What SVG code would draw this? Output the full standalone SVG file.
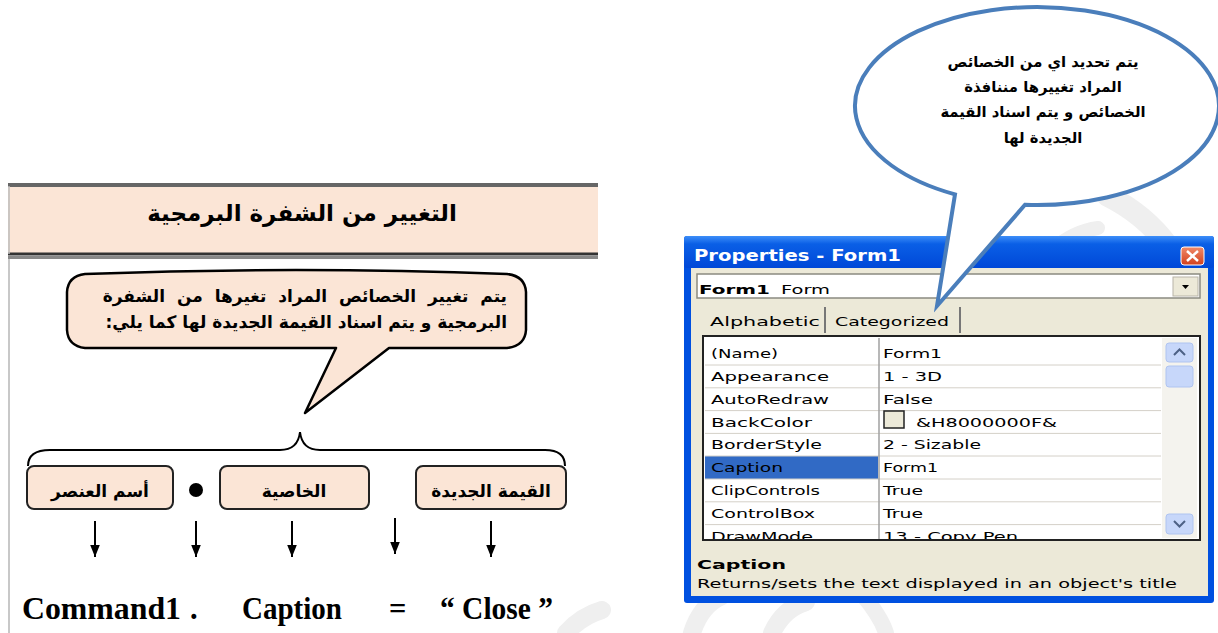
<svg xmlns="http://www.w3.org/2000/svg" width="1218" height="633" viewBox="0 0 1218 633">
<defs>
<style>
.ar{font-family:'DejaVu Sans','Noto Sans',sans-serif;font-weight:bold;fill:#000;}
.peach{fill:#FBE5D6;}
.code{font-family:'Liberation Serif',serif;font-weight:bold;font-size:30.5px;fill:#000;}
.ui{font-family:'DejaVu Sans',sans-serif;font-size:13px;fill:#000;}
.gl{stroke:#d4d0c8;stroke-width:1;}
.arrow{stroke:#000;stroke-width:2;marker-end:url(#ah);}
.wm{fill:none;stroke:#efefef;stroke-linecap:round;}
.sb{fill:#C7D7FA;stroke:#AFC4F0;stroke-width:1;}
</style>
<marker id="ah" viewBox="0 0 10 8" refX="10" refY="4" markerWidth="6" markerHeight="4.8" orient="auto" markerUnits="strokeWidth">
<path d="M0,0 L10,4 L0,8 Z" fill="#000"/>
</marker>
<linearGradient id="tb" x1="0" y1="0" x2="0" y2="1">
<stop offset="0" stop-color="#3D8EF8"/>
<stop offset="0.25" stop-color="#0A5FE6"/>
<stop offset="1" stop-color="#0048D8"/>
</linearGradient>
<linearGradient id="cb" x1="0" y1="0" x2="0" y2="1">
<stop offset="0" stop-color="#F08A6A"/>
<stop offset="1" stop-color="#D2401C"/>
</linearGradient>
<clipPath id="gridclip"><rect x="704" y="337" width="495" height="202"/></clipPath>
</defs>

<rect width="1218" height="633" fill="#fff"/>

<!-- faint watermark strokes -->
<g id="watermark">
<path class="wm" stroke-width="22" d="M1108,196 C1132,208 1152,224 1168,246"/>
<path class="wm" stroke-width="14" d="M1052,250 C1066,238 1082,230 1098,228"/>
<path class="wm" stroke-width="18" d="M692,633 C698,614 708,602 722,596"/>
<path class="wm" stroke-width="18" d="M772,633 C780,616 792,606 806,602"/>
<path class="wm" stroke-width="16" d="M862,594 C872,606 882,620 886,633"/>
<path class="wm" stroke-width="18" d="M566,633 C576,622 588,614 602,610"/>
</g>

<!-- LEFT PANEL -->
<g id="left-panel">
<rect x="8" y="186" width="590" height="68" class="peach"/>
<line x1="8" y1="185" x2="598" y2="185" stroke="#666" stroke-width="4"/>
<line x1="8" y1="254" x2="598" y2="254" stroke="#333" stroke-width="3"/>
<line x1="8" y1="257.5" x2="598" y2="257.5" stroke="#888" stroke-width="3"/>
<line x1="9" y1="186" x2="9" y2="254" stroke="#bbb" stroke-width="1.5"/>
<line x1="9" y1="259" x2="9" y2="633" stroke="#c8c8c8" stroke-width="2"/>
</g>

<g id="title">
<text class="ar" x="302" y="221" font-size="23" text-anchor="middle" direction="rtl">التغيير من الشفرة البرمجية</text>
</g>

<g id="callout-left">
<path d="M85,274 Q296,266 507,274 Q525,276 526,292 L526,330 Q525,346 507,348 L389,348 L305,413 L336,348 L85,348 Q68,346 67,330 L67,292 Q68,276 85,274 Z" fill="#FBE5D6" stroke="#000" stroke-width="2.5" stroke-linejoin="round"/>
<text class="ar" x="507" y="302" font-size="17" direction="rtl" text-anchor="start" word-spacing="6">يتم تغيير الخصائص المراد تغيرها من الشفرة</text>
<text class="ar" x="507" y="328" font-size="17" direction="rtl" text-anchor="start">البرمجية و يتم اسناد القيمة الجديدة لها كما يلي:</text>
</g>

<g id="brace">
<path d="M28,466 Q28,450 50,450 L280,450 Q298,450 300,432 Q302,450 320,450 L545,450 Q565,450 565,466" fill="none" stroke="#000" stroke-width="2"/>
</g>

<g id="box-element">
<rect x="27" y="466" width="146" height="43" rx="7" class="peach" stroke="#222" stroke-width="2"/>
<text class="ar" x="100" y="497" font-size="17" text-anchor="middle" direction="rtl">أسم العنصر</text>
</g>
<g id="dot">
<circle cx="196" cy="490" r="7" fill="#000"/>
</g>
<g id="box-property">
<rect x="220" y="466" width="149" height="43" rx="7" class="peach" stroke="#222" stroke-width="2"/>
<text class="ar" x="294" y="497" font-size="17" text-anchor="middle" direction="rtl">الخاصية</text>
</g>
<g id="box-value">
<rect x="416" y="466" width="150" height="43" rx="7" class="peach" stroke="#222" stroke-width="2"/>
<text class="ar" x="491" y="497" font-size="17" text-anchor="middle" direction="rtl">القيمة الجديدة</text>
</g>

<g id="connectors">
<line class="arrow" x1="95" y1="521" x2="95" y2="557"/>
<line class="arrow" x1="196" y1="521" x2="196" y2="557"/>
<line class="arrow" x1="292" y1="521" x2="292" y2="557"/>
<line class="arrow" x1="395" y1="518" x2="395" y2="554"/>
<line class="arrow" x1="491" y1="521" x2="491" y2="557"/>
</g>

<g id="code-line">
<text class="code" x="22" y="619" textLength="159" lengthAdjust="spacingAndGlyphs">Command1</text>
<text class="code" x="190" y="619">.</text>
<text class="code" x="242" y="619" textLength="100" lengthAdjust="spacingAndGlyphs">Caption</text>
<text class="code" x="389" y="619">=</text>
<text class="code" x="440" y="619" textLength="113" lengthAdjust="spacingAndGlyphs">“ Close ”</text>
</g>

<!-- PROPERTIES WINDOW -->
<g id="properties-window">
<rect x="684" y="236" width="530" height="367" rx="3" fill="#0050E0"/>
<rect x="684" y="236" width="530" height="32" rx="3" fill="url(#tb)"/>
<rect x="691" y="268" width="517" height="328" fill="#ECE9D8"/>
<text x="694" y="261" font-family="'DejaVu Sans',sans-serif" font-weight="bold" font-size="15" fill="#fff" textLength="207" lengthAdjust="spacingAndGlyphs">Properties - Form1</text>
<rect x="1181" y="247" width="23" height="18" rx="3" fill="url(#cb)" stroke="#fff" stroke-width="1"/>
<path d="M1187,251 L1198,261 M1198,251 L1187,261" stroke="#fff" stroke-width="2.5"/>

<!-- combo -->
<rect x="697" y="274" width="503" height="24" fill="#fff" stroke="#8a8a80" stroke-width="1.5"/>
<text class="ui" x="699" y="294" font-weight="bold" textLength="71" lengthAdjust="spacingAndGlyphs">Form1</text>
<text class="ui" x="781" y="294" textLength="49" lengthAdjust="spacingAndGlyphs">Form</text>
<rect x="1173" y="277" width="25" height="19" fill="#ECE9D8" stroke="#b8b4a8" stroke-width="1"/>
<path d="M1182,285 L1189,285 L1185.5,289 Z" fill="#000"/>

<!-- tabs -->
<text class="ui" x="710" y="326" textLength="110" lengthAdjust="spacingAndGlyphs">Alphabetic</text>
<line x1="825" y1="307" x2="825" y2="333" stroke="#777" stroke-width="2"/>
<text class="ui" x="835" y="326" textLength="114" lengthAdjust="spacingAndGlyphs">Categorized</text>
<line x1="960" y1="307" x2="960" y2="333" stroke="#777" stroke-width="2"/>

<!-- grid -->
<rect x="703" y="336" width="497" height="204" fill="#fff" stroke="#222" stroke-width="2"/>
<rect x="1162" y="338" width="35" height="200" fill="#F4F3EE"/>
<rect x="705" y="456" width="173" height="23" fill="#316AC5"/>
<g class="gl">
<line x1="705" y1="365" x2="1161" y2="365"/>
<line x1="705" y1="387.8" x2="1161" y2="387.8"/>
<line x1="705" y1="410.6" x2="1161" y2="410.6"/>
<line x1="705" y1="433.4" x2="1161" y2="433.4"/>
<line x1="705" y1="456" x2="1161" y2="456"/>
<line x1="705" y1="479" x2="1161" y2="479"/>
<line x1="705" y1="501.8" x2="1161" y2="501.8"/>
<line x1="705" y1="524.6" x2="1161" y2="524.6"/>
</g>
<line x1="879" y1="338" x2="879" y2="539" stroke="#a0a0a0" stroke-width="1.5"/>

<g clip-path="url(#gridclip)">
<text class="ui" x="711" y="358" textLength="67" lengthAdjust="spacingAndGlyphs">(Name)</text>
<text class="ui" x="711" y="381" textLength="118" lengthAdjust="spacingAndGlyphs">Appearance</text>
<text class="ui" x="711" y="404" textLength="118" lengthAdjust="spacingAndGlyphs">AutoRedraw</text>
<text class="ui" x="711" y="427" textLength="101" lengthAdjust="spacingAndGlyphs">BackColor</text>
<text class="ui" x="711" y="449" textLength="111" lengthAdjust="spacingAndGlyphs">BorderStyle</text>
<text class="ui" x="711" y="472" textLength="72" lengthAdjust="spacingAndGlyphs" fill="#fff">Caption</text>
<text class="ui" x="711" y="495" textLength="109" lengthAdjust="spacingAndGlyphs">ClipControls</text>
<text class="ui" x="711" y="518" textLength="104" lengthAdjust="spacingAndGlyphs">ControlBox</text>
<text class="ui" x="711" y="541" textLength="102" lengthAdjust="spacingAndGlyphs">DrawMode</text>

<text class="ui" x="883" y="358" textLength="59" lengthAdjust="spacingAndGlyphs">Form1</text>
<text class="ui" x="883" y="381" textLength="59" lengthAdjust="spacingAndGlyphs">1 - 3D</text>
<text class="ui" x="883" y="404" textLength="50" lengthAdjust="spacingAndGlyphs">False</text>
<rect x="884" y="411" width="20" height="17" fill="#ECE9D8" stroke="#222" stroke-width="1.5"/>
<text class="ui" x="916" y="427" textLength="141" lengthAdjust="spacingAndGlyphs">&amp;H8000000F&amp;</text>
<text class="ui" x="883" y="449" textLength="98" lengthAdjust="spacingAndGlyphs">2 - Sizable</text>
<text class="ui" x="883" y="472" textLength="55" lengthAdjust="spacingAndGlyphs">Form1</text>
<text class="ui" x="883" y="495" textLength="40" lengthAdjust="spacingAndGlyphs">True</text>
<text class="ui" x="883" y="518" textLength="40" lengthAdjust="spacingAndGlyphs">True</text>
<text class="ui" x="883" y="541" textLength="135" lengthAdjust="spacingAndGlyphs">13 - Copy Pen</text>
</g>

<!-- scrollbar -->
<rect class="sb" x="1166" y="343" width="27" height="19" rx="3"/>
<path d="M1174,355 L1179.5,349.5 L1185,355" fill="none" stroke="#4D6185" stroke-width="2"/>
<rect class="sb" x="1166" y="366" width="27" height="21" rx="3"/>
<rect class="sb" x="1166" y="514" width="27" height="20" rx="3"/>
<path d="M1174,521 L1179.5,526.5 L1185,521" fill="none" stroke="#4D6185" stroke-width="2"/>

<!-- description -->
<text class="ui" x="697" y="569" font-weight="bold" textLength="89" lengthAdjust="spacingAndGlyphs">Caption</text>
<text class="ui" x="697" y="588" textLength="480" lengthAdjust="spacingAndGlyphs">Returns/sets the text displayed in an object's title</text>
</g>

<!-- ELLIPSE CALLOUT -->
<g id="callout-ellipse">
<path d="M1025,204.8 A182,99 0 1 0 955,194.4 L937,306 Z" fill="#fff" stroke="#4A7EBB" stroke-width="4" stroke-linejoin="miter"/>
<text class="ar" x="1043" y="67" font-size="14.8" text-anchor="middle" direction="rtl">يتم تحديد اي من الخصائص</text>
<text class="ar" x="1043" y="92" font-size="14.8" text-anchor="middle" direction="rtl">المراد تغييرها مننافذة</text>
<text class="ar" x="1043" y="117" font-size="14.8" text-anchor="middle" direction="rtl">الخصائص و يتم اسناد القيمة</text>
<text class="ar" x="1043" y="143" font-size="14.8" text-anchor="middle" direction="rtl">الجديدة لها</text>
</g>
</svg>
